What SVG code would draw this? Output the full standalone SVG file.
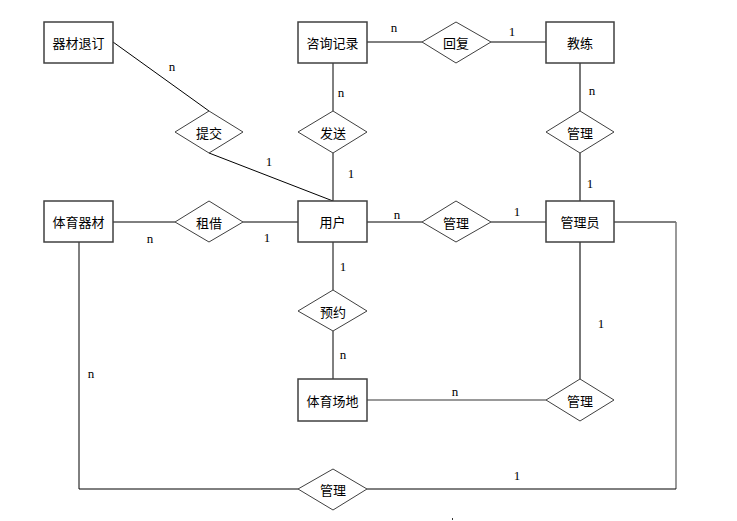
<svg xmlns="http://www.w3.org/2000/svg" width="737" height="521" viewBox="0 0 737 521">
<style>
.ent{fill:#fff;stroke:#404040;stroke-width:1.5}
.rel{fill:#fff;stroke:#404040;stroke-width:1}
.t{font-family:"Noto Sans CJK SC","Noto Sans",sans-serif;font-size:13px;fill:#000;text-anchor:middle;dominant-baseline:central}
.c{font-family:"Liberation Serif",serif;font-size:13px;fill:#000;text-anchor:middle;dominant-baseline:central}
.ln{fill:none;stroke:#000;stroke-width:1}
.lg{fill:none;stroke:#777;stroke-width:2}
</style>
<rect width="737" height="521" fill="#fff"/>
<g id="connectors">
<polyline class="ln" points="113,42 209,111"/>
<polyline class="ln" points="209,153 333,201"/>
<polyline class="ln" points="333,63 333,111"/>
<polyline class="ln" points="333,153 333,201"/>
<polyline class="ln" points="367,42 422,42"/>
<polyline class="ln" points="491,42 546,42"/>
<polyline class="lg" points="580,63 580,111"/>
<polyline class="lg" points="580,153 580,201"/>
<polyline class="ln" points="113,222 175,222"/>
<polyline class="ln" points="243,222 298,222"/>
<polyline class="ln" points="367,222 422,222"/>
<polyline class="ln" points="491,222 546,222"/>
<polyline class="ln" points="333,242 333,290"/>
<polyline class="ln" points="333,331 333,379"/>
<polyline class="lg" points="367,400 546,400" style="stroke-width:1.5"/>
<polyline class="lg" points="580,242 580,379"/>
<polyline class="ln" points="614,222 676,222"/>
<polyline class="lg" points="676,222 676,489" style="stroke-width:1.5"/>
<polyline class="ln" points="676,489 367,489"/>
<polyline class="ln" points="79,242 79,489 298,489"/>
</g>
<g id="e-qicaituiding"><rect class="ent" x="44" y="22" width="69" height="41"/><text class="t" x="78.5" y="42.5">器材退订</text></g>
<g id="e-zixunjilu"><rect class="ent" x="298" y="22" width="69" height="41"/><text class="t" x="332.5" y="42.5">咨询记录</text></g>
<g id="e-jiaolian"><rect class="ent" x="546" y="22" width="68" height="41"/><text class="t" x="580" y="42.5">教练</text></g>
<g id="e-tiyuqicai"><rect class="ent" x="44" y="201" width="69" height="41"/><text class="t" x="78.5" y="221.5">体育器材</text></g>
<g id="e-yonghu"><rect class="ent" x="298" y="201" width="69" height="41"/><text class="t" x="332.5" y="221.5">用户</text></g>
<g id="e-guanliyuan"><rect class="ent" x="546" y="201" width="68" height="41"/><text class="t" x="580" y="221.5">管理员</text></g>
<g id="e-tiyuchangdi"><rect class="ent" x="298" y="379" width="69" height="42"/><text class="t" x="332.5" y="400">体育场地</text></g>
<g id="r-tijiao"><polygon class="rel" points="209,111 243,132 209,153 175,132"/><text class="t" x="209" y="132">提交</text></g>
<g id="r-fasong"><polygon class="rel" points="333,111 367,132 333,153 298,132"/><text class="t" x="333" y="132">发送</text></g>
<g id="r-huifu"><polygon class="rel" points="456,22 491,42 456,63 422,42"/><text class="t" x="456" y="42.5">回复</text></g>
<g id="r-guanli1"><polygon class="rel" points="580,111 614,132 580,153 546,132"/><text class="t" x="580" y="132">管理</text></g>
<g id="r-zujie"><polygon class="rel" points="209,201 243,222 209,242 175,222"/><text class="t" x="209" y="222">租借</text></g>
<g id="r-guanli2"><polygon class="rel" points="456,201 491,222 456,242 422,222"/><text class="t" x="456" y="222">管理</text></g>
<g id="r-yuyue"><polygon class="rel" points="333,290 367,311 333,331 298,311"/><text class="t" x="333" y="311">预约</text></g>
<g id="r-guanli3"><polygon class="rel" points="580,379 614,400 580,421 546,400"/><text class="t" x="580" y="400">管理</text></g>
<g id="r-guanli4"><polygon class="rel" points="333,469 367,489 333,510 298,489"/><text class="t" x="333" y="489.5">管理</text></g>
<g id="cardinalities">
<text class="c" x="172" y="66">n</text>
<text class="c" x="269" y="161">1</text>
<text class="c" x="341" y="92">n</text>
<text class="c" x="351" y="173">1</text>
<text class="c" x="394" y="27">n</text>
<text class="c" x="512" y="31">1</text>
<text class="c" x="592" y="90">n</text>
<text class="c" x="590" y="183">1</text>
<text class="c" x="150" y="238">n</text>
<text class="c" x="267" y="237">1</text>
<text class="c" x="343" y="266">1</text>
<text class="c" x="397" y="214">n</text>
<text class="c" x="517" y="211">1</text>
<text class="c" x="601" y="323">1</text>
<text class="c" x="91" y="373">n</text>
<text class="c" x="343" y="354">n</text>
<text class="c" x="455" y="391">n</text>
<text class="c" x="517" y="475">1</text>
</g>
<rect x="452" y="518" width="1" height="2" fill="#333"/>
</svg>
